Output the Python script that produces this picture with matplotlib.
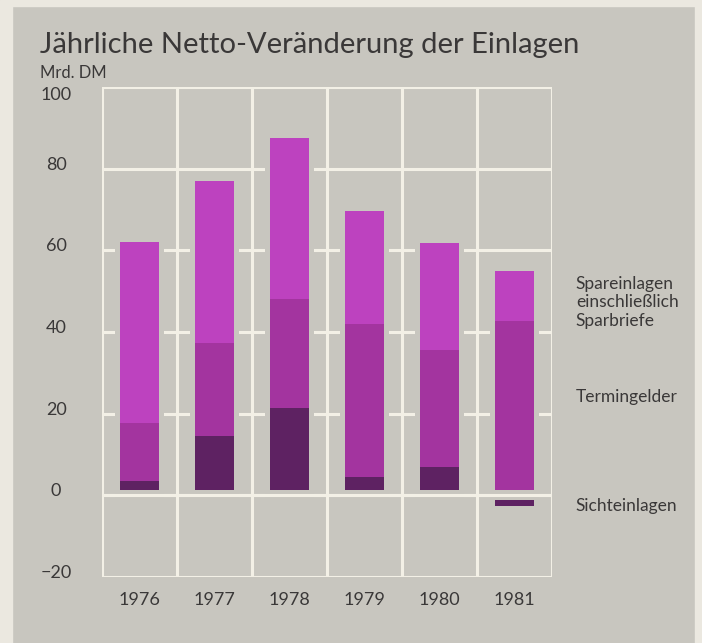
import numpy as np
import matplotlib.pyplot as plt
import matplotlib.transforms as mtransforms
from matplotlib.patches import Rectangle

# Mrd. DM
years = ['1976', '1977', '1978', '1979', '1980', '1981']
sicht = [3.4, 14.6, 21.3, 4.4, 7.0, -2.7]
termin = [14.3, 22.7, 26.9, 37.6, 28.5, 42.6]
spar = [44.4, 39.6, 39.4, 27.7, 26.2, 12.3]
yticks = [100, 80, 60, 40, 20, 0, -20]
ytick_labels = ['100', '80', '60', '40', '20', '0', '\u221220']

bg = '#c8c6bf'
grid = '#f3f0e6'
paper = '#ebe8e0'
c_spar = '#bd42bf'
c_termin = '#a3349f'
c_sicht = '#5e2262'
txt = '#3a3838'

plt.rcParams['font.family'] = ['Lato', 'DejaVu Sans']

fig = plt.figure(figsize=(7.02, 6.43), dpi=100)
fig.patch.set_facecolor(bg)
# paper edges of the scan
fig.patches.append(Rectangle((0, 0.991), 1, 0.009, transform=fig.transFigure, color=paper, zorder=0))
fig.patches.append(Rectangle((0, 0), 0.017, 1, transform=fig.transFigure, color=paper, zorder=0))
fig.patches.append(Rectangle((0.99, 0), 0.01, 1, transform=fig.transFigure, color=paper, zorder=0))

ax = fig.add_axes([0.1453, 0.1026, 0.641, 0.762])
ax.set_facecolor(bg)
ax.set_xlim(-0.5, 5.5)
ax.set_ylim(-20, 100)
for s in ax.spines.values():
    s.set_visible(False)
ax.set_xticks([])
ax.set_yticks([])

x = np.arange(len(years))
w = 0.52
sicht = np.array(sicht)
termin = np.array(termin)
spar = np.array(spar)

# grid
for v in yticks:
    ax.axhline(v, color=grid, lw=2.2, zorder=1)
for xv in np.arange(-0.5, 6, 1):
    ax.axvline(xv, color=grid, lw=2.2, zorder=1)

# stacking
b_termin = np.clip(sicht, 0, None)
b_spar = b_termin + termin
top = b_spar + spar

# background gap around bars (cuts grid lines)
ax.bar(x, top + 1.2, width=w + 0.13, color=bg, zorder=2)
ax.bar(x, sicht, width=w, color=c_sicht, zorder=3)
ax.bar(x, termin, bottom=b_termin, width=w, color=c_termin, zorder=3)
ax.bar(x, spar, bottom=b_spar, width=w, color=c_spar, zorder=3)
# small gap along the zero line
ax.bar(x, 2.4, bottom=-1.2, width=w + 0.13, color=bg, zorder=4)
ax.axhline(0, color=grid, lw=2.2, zorder=5)

# y labels
ytr = ax.get_yaxis_transform()
up = mtransforms.offset_copy(ytr, fig=fig, x=0, y=3, units='points')
for v, lab in zip(yticks, ytick_labels):
    if v == 100:
        ax.text(-0.102, v, lab, transform=ytr, ha='center', va='top', fontsize=13, color=txt)
    else:
        ax.text(-0.102, v, lab, transform=up, ha='center', va='center', fontsize=13, color=txt)
# x labels
for xi, lab in zip(x, years):
    ax.text(xi, -25.6, lab, ha='center', va='center', fontsize=13, color=txt, clip_on=False)

# series labels
ax.text(1.053, 47.3, 'Spareinlagen\neinschließlich\nSparbriefe', transform=ytr,
        ha='left', va='center', fontsize=12.5, color=txt, linespacing=1.18)
ax.text(1.053, 24.0, 'Termingelder', transform=ytr,
        ha='left', va='center', fontsize=12.5, color=txt)
ax.text(1.053, -2.6, 'Sichteinlagen', transform=ytr,
        ha='left', va='center', fontsize=12.5, color=txt)

fig.text(0.057, 0.9176, 'Jährliche Netto-Veränderung der Einlagen', fontsize=21,
         color=txt, va='baseline')
fig.text(0.057, 0.8787, 'Mrd. DM', fontsize=12, color=txt, va='baseline')

fig.savefig('out.png', dpi=100, facecolor=bg)
